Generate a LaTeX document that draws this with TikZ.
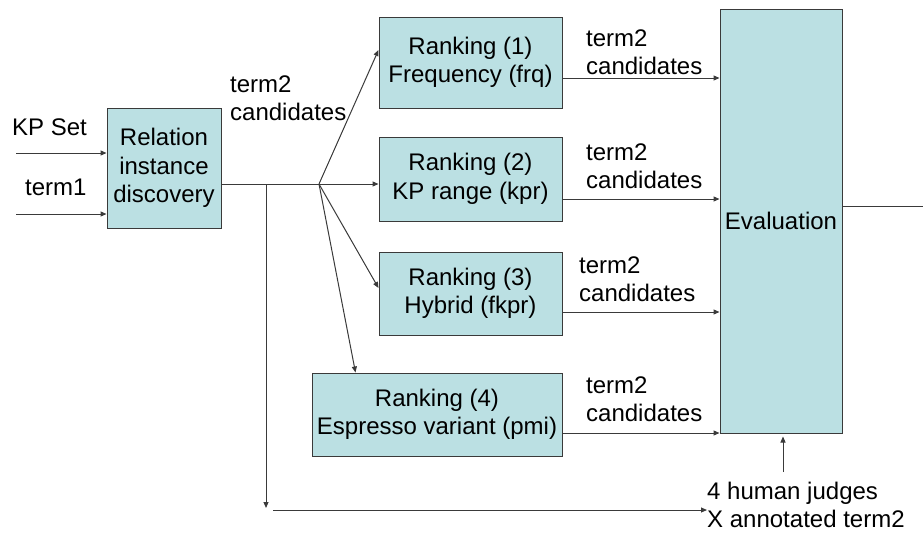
\documentclass[tikz,border=0pt]{standalone}
\usepackage{fontspec}
\setmainfont{Liberation Sans}
\usetikzlibrary{arrows.meta,calc}
\definecolor{boxfill}{HTML}{BBE0E3}
\definecolor{edge}{HTML}{3A3A3A}
\tikzset{
  box/.style={draw=edge,fill=boxfill,line width=1pt,inner sep=0pt,align=center,anchor=center},
  lbl/.style={inner sep=0pt,align=left,anchor=west},
  conn/.style={draw=edge,line width=1pt},
  arr/.style={conn,-{Triangle[length=6pt,width=5pt]}}
}
\begin{document}
\begin{tikzpicture}[x=1pt,y=-1pt,font=\fontsize{24}{28.5}\selectfont]
\useasboundingbox (0,0) rectangle (923,533);
% boxes
\node[box,minimum width=114pt,minimum height=120pt] (rel) at (164,168) {Relation\\instance\\discovery};
\node[box,minimum width=183pt,minimum height=91pt] (r1) at (470.5,62.5) {Ranking (1)\\Frequency (frq)};
\node[box,minimum width=183pt,minimum height=84pt] (r2) at (470.5,179) {Ranking (2)\\KP range (kpr)};
\node[box,minimum width=183pt,minimum height=83pt] (r3) at (470.5,293.5) {Ranking (3)\\Hybrid (fkpr)};
\node[box,minimum width=250pt,minimum height=83pt] (r4) at (437,414.5) {Ranking (4)\\Espresso variant (pmi)};
\node[box,minimum width=122pt,minimum height=424pt] (ev) at (781,221) {Evaluation};
% labels
\node[lbl] (kp) at (12,127) {KP Set};
\node[lbl] (t1) at (25,187) {term1};
\node[lbl] (l0) at (230,98) {term2\\candidates};
\node[lbl] (l1) at (586,52) {term2\\candidates};
\node[lbl] (l2) at (586,166) {term2\\candidates};
\node[lbl] (l3) at (579,279) {term2\\candidates};
\node[lbl] (l4) at (586,399) {term2\\candidates};
\node[lbl] (judges) at (707,505) {4 human judges\\X annotated term2};
% coordinates
\coordinate (kpin) at (16,153);
\coordinate (t1in) at (16,214);
\coordinate (split) at (266,184);
\coordinate (fan) at (319,184);
\coordinate (down) at (266,508);
\coordinate (hstart) at (273,510);
\coordinate (jup) at (783,472);
\coordinate (evout) at (923,206);
% inputs
\draw[arr] (kpin) -- (kpin -| rel.west);
\draw[arr] (t1in) -- (t1in -| rel.west);
% output of relation discovery
\draw[conn] (rel.east |- fan) -- (fan);
\draw[arr] (split) -- (down);
\draw[arr] (hstart) -- (hstart -| judges.west);
% fan to rankings
\draw[arr] (fan) -- ($(r1.west)+(0,-12.5)$);
\draw[arr] (fan) -- (r2.west |- fan);
\draw[arr] (fan) -- ($(r3.west)+(0,-5.5)$);
\draw[arr] (fan) -- ($(r4.north west)+(44,0)$);
% rankings to evaluation
\draw[arr] ($(r1.east)+(0,15.5)$) coordinate (o1) -- (o1 -| ev.west);
\draw[arr] ($(r2.east)+(0,20)$) coordinate (o2) -- (o2 -| ev.west);
\draw[arr] ($(r3.east)+(0,18.5)$) coordinate (o3) -- (o3 -| ev.west);
\draw[arr] ($(r4.east)+(0,18.5)$) coordinate (o4) -- (o4 -| ev.west);
% evaluation output and judges
\draw[conn] (evout -| ev.east) -- (evout);
\draw[arr] (jup) -- ($(jup |- ev.south)+(0,3)$);
\end{tikzpicture}
\end{document}
